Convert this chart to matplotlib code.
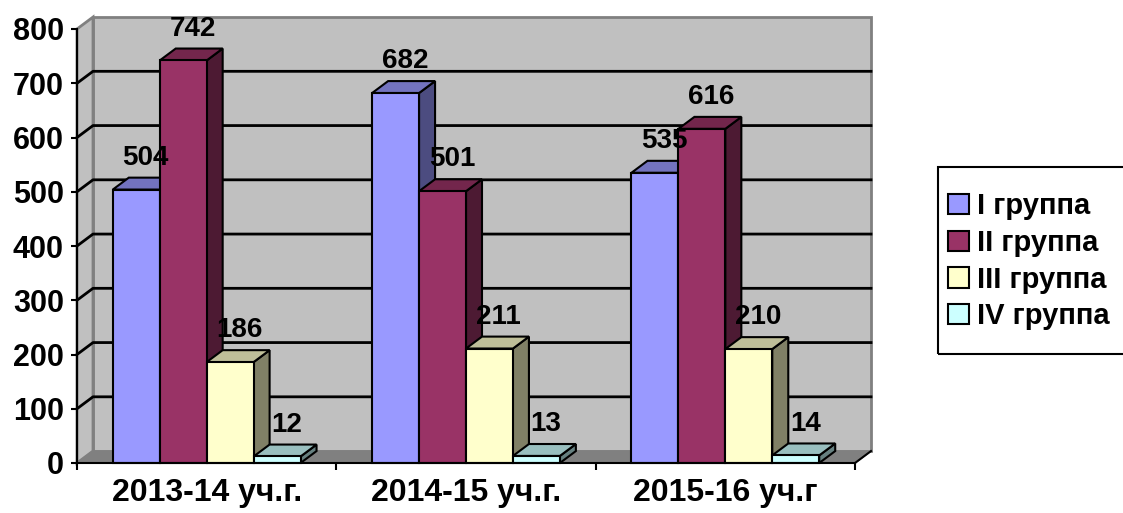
import matplotlib
matplotlib.use("Agg")
import matplotlib.pyplot as plt
from matplotlib.patches import Polygon, Patch, Rectangle
import numpy as np

plt.rcParams['font.family'] = ['Liberation Sans', 'DejaVu Sans']
plt.rcParams['font.weight'] = 'bold'

# данные
years = ["2013-14 уч.г.", "2014-15 уч.г.", "2015-16 уч.г"]
groups = ["I группа", "II группа", "III группа", "IV группа"]
group1 = [504, 682, 535]
group2 = [742, 501, 616]
group3 = [186, 211, 210]
group4 = [12, 13, 14]
series = [group1, group2, group3, group4]

face_colors = ["#9999FF", "#993366", "#FFFFCC", "#CCFFFF"]
top_colors = ["#7373BF", "#73264C", "#BFBF99", "#99BFBF"]
side_colors = ["#4C4C80", "#4D1A33", "#808066", "#668080"]

W = 0.181           # ширина столбика (в долях категории)
OFF = (1 - 4 * W) / 2
DX = 16 / 259.3     # глубина по x
DY = 22.0           # глубина по y (в единицах шкалы)
YMAX = 800

fig = plt.figure(figsize=(11.23, 5.13), dpi=100)
ax = fig.add_axes([77 / 1123, 50 / 513, (855 - 77) / 1123, (463 - 29) / 513])
ax.set_xlim(0, 3)
ax.set_ylim(0, YMAX)
ax.set_facecolor('none')

# стенки и пол
n = len(years)
back = Polygon([(DX, DY), (n + DX, DY), (n + DX, YMAX + DY), (DX, YMAX + DY)],
               facecolor="#C0C0C0", edgecolor="#808080", lw=2, clip_on=False, zorder=0)
side = Polygon([(0, 0), (DX, DY), (DX, YMAX + DY), (0, YMAX)],
               facecolor="#C0C0C0", edgecolor="#808080", lw=2, clip_on=False, zorder=0.5)
floor = Polygon([(0, 0), (n, 0), (n + DX, DY), (DX, DY)],
                facecolor="#808080", edgecolor="#808080", lw=1, clip_on=False, zorder=0.6)
for p in (back, side, floor):
    ax.add_patch(p)

for v in range(100, YMAX, 100):
    ax.plot([0, DX, n + DX], [v, v + DY, v + DY], color="black", lw=2,
            clip_on=False, zorder=1)
ax.plot([n, n + DX], [0, DY], color="black", lw=1.5, clip_on=False, zorder=1)

# столбики
x0 = np.arange(n)
for j, vals in enumerate(series):
    xs = x0 + OFF + j * W
    z = 3 + j
    for x, v in zip(xs, vals):
        ax.add_patch(Polygon([(x + W, 0), (x + W + DX, DY), (x + W + DX, v + DY), (x + W, v)],
                             facecolor=side_colors[j], edgecolor="black", lw=1.5,
                             clip_on=False, zorder=z))
        ax.add_patch(Polygon([(x, v), (x + W, v), (x + W + DX, v + DY), (x + DX, v + DY)],
                             facecolor=top_colors[j], edgecolor="black", lw=1.5,
                             clip_on=False, zorder=z))
        ax.annotate(str(v), (x + W / 2 + DX / 2, v + DY), xytext=(1, 5),
                    textcoords="offset points", ha="center", va="bottom",
                    fontsize=20, fontweight="bold", zorder=20)
    ax.bar(xs, vals, W, align="edge", color=face_colors[j], edgecolor="black",
           lw=1.5, zorder=z + 0.5, clip_on=False)

# оси
for s in ("top", "right"):
    ax.spines[s].set_visible(False)
ax.spines["left"].set_linewidth(1.5)
ax.spines["bottom"].set_linewidth(1.5)
ax.spines["left"].set_zorder(2)
ax.spines["bottom"].set_zorder(10)

ax.set_yticks(range(0, YMAX + 1, 100))
ax.tick_params(axis="y", length=4.5, width=1.5, pad=5, labelsize=22)
ax.set_xticks(range(n + 1))
ax.set_xticklabels([])
ax.set_xticks(x0 + 0.5, minor=True)
ax.set_xticklabels(years, minor=True, fontsize=23, fontweight="bold")
ax.tick_params(axis="x", which="major", length=5, width=1.5)
ax.tick_params(axis="x", which="minor", length=0, pad=11)

# легенда (рамка рисуется отдельно, уходит за правый край)
fig.patches.append(Rectangle((938 / 1123, (513 - 354) / 513), 200 / 1123, 187 / 513,
                             transform=fig.transFigure, fill=False,
                             edgecolor="black", lw=1.5))
handles = [Patch(facecolor=c, edgecolor="black", lw=1.5) for c in face_colors]
leg = fig.legend(handles, groups, loc="upper left",
                 bbox_to_anchor=(938 / 1123, 1 - 182 / 513), fontsize=21,
                 frameon=False, handlelength=0.7, handleheight=0.7,
                 handletextpad=0.3, borderpad=0.35, labelspacing=0.3,
                 borderaxespad=0)

fig.savefig("out.png", dpi=100)
